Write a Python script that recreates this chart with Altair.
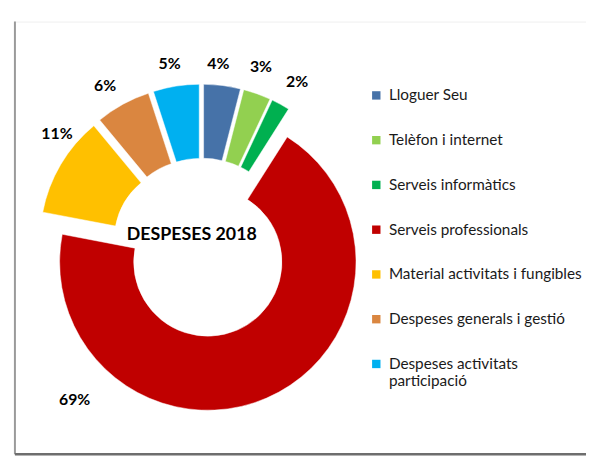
import altair as alt
import pandas as pd

# ---- data ----
categories = [
    "Lloguer Seu",
    "Telèfon i internet",
    "Serveis informàtics",
    "Serveis professionals",
    "Material activitats i fungibles",
    "Despeses generals i gestió",
    "Despeses activitats\nparticipació",
]
values = [4, 3, 2, 69, 11, 6, 5]
colors = ["#4672A8", "#92D050", "#00B050", "#C00000", "#FFC000", "#DA8640", "#00B0F0"]
chart_title = "DESPESES 2018"

# ---- label layout (deg clockwise from 12 o'clock, px from slice centre) ----
label_angle = [5, 18, 30, 224, 309, 329, 350]
label_dist = [171, 177, 178, 194, 171, 175, 173]

# ---- layout ----
W, H = 578, 438
CX, CY = 189, 229
R_OUT, R_IN = 150, 75
EXPLODE = 15.7
FONT = "Lato"

df = pd.DataFrame({
    "cat": categories,
    "value": values,
    "order": list(range(len(categories))),
    "la": label_angle,
    "ld": label_dist,
})

base = (
    alt.Chart(df)
    .transform_window(cum="sum(value)", sort=[alt.SortField("order")], frame=[None, 0])
    .transform_joinaggregate(total="sum(value)")
    .transform_calculate(
        c0="datum.cum - datum.value",
        mid="(datum.cum - datum.value / 2) / datum.total * 2 * PI",
    )
    .transform_calculate(
        px=f"{CX} + {EXPLODE} * sin(datum.mid)",
        py=f"{CY} - {EXPLODE} * cos(datum.mid)",
    )
    .transform_calculate(
        lx="datum.px + datum.ld * sin(datum.la * PI / 180)",
        ly="datum.py - datum.ld * cos(datum.la * PI / 180)",
        lab="datum.value + '%'",
    )
)

arcs = base.mark_arc(outerRadius=R_OUT, innerRadius=R_IN, stroke="white", strokeWidth=0.5).encode(
    theta=alt.Theta("c0:Q", scale=alt.Scale(domain=[0, sum(values)], nice=False, zero=True)),
    theta2="cum:Q",
    x=alt.X("px:Q", scale=None),
    y=alt.Y("py:Q", scale=None),
    color=alt.Color(
        "cat:N",
        scale=alt.Scale(domain=categories, range=colors),
        sort=categories,
        legend=alt.Legend(
            title=None,
            orient="none",
            legendX=358,
            legendY=67,
            symbolType="square",
            symbolSize=72,
            symbolStrokeWidth=0,
            labelFont=FONT,
            labelFontSize=15.5,
            labelColor="#1a1a1a",
            labelLimit=400,
            labelOffset=5,
            rowPadding=28.3,
            padding=0,
            labelExpr="split(datum.label, '\\n')",
        ),
    ),
)

labels = base.mark_text(font=FONT, fontSize=16, fontWeight="bold", color="black").encode(
    x=alt.X("lx:Q", scale=None),
    y=alt.Y("ly:Q", scale=None),
    text="lab:N",
)

title = alt.Chart(pd.DataFrame({"t": [chart_title]})).mark_text(
    font=FONT, fontSize=18, fontWeight="bold", color="black"
).encode(text="t:N", x=alt.value(179), y=alt.value(216))

frame_df = pd.DataFrame({"k": [0]})
left_line = alt.Chart(frame_df).mark_rule(color="#9a9a9a", strokeWidth=2).encode(
    x=alt.value(0), y=alt.value(0), y2=alt.value(H)
)
bottom_line = alt.Chart(frame_df).mark_rule(color="#6e6e6e", strokeWidth=2.5).encode(
    x=alt.value(0), x2=alt.value(W), y=alt.value(H)
)

chart = (
    alt.layer(arcs, labels, title, left_line, bottom_line)
    .properties(
        width=W,
        height=H,
        autosize=alt.AutoSizeParams(type="none"),
        padding={"left": 7, "top": 11, "right": 0, "bottom": 0},
    )
    .configure_view(stroke="#efefef")
)

chart.save("out.html", embed_options={"renderer": "svg", "actions": False})
